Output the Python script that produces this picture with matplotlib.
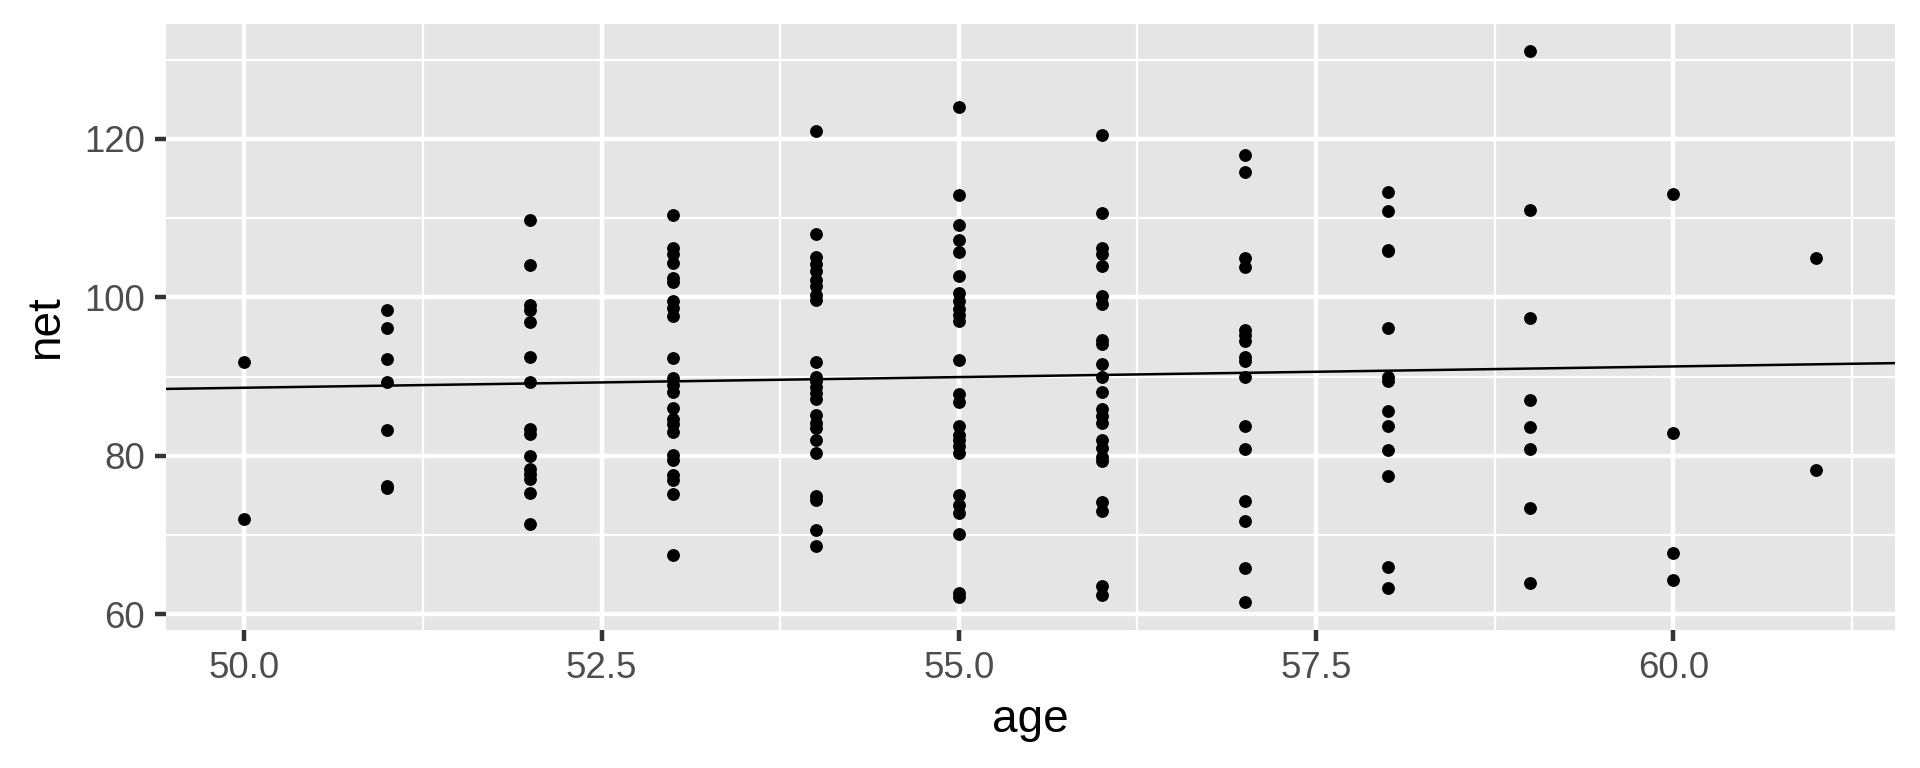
import numpy as np
import matplotlib
matplotlib.use("Agg")
import matplotlib.pyplot as plt

plt.rcParams['font.family'] = ['Liberation Sans', 'DejaVu Sans']

ages = [50, 51, 52, 53, 54, 55, 56, 57, 58, 59, 60, 61]
net_50 = [91.9, 72.0]
net_51 = [98.4, 96.2, 92.2, 89.3, 83.3, 76.2, 76.0]
net_52 = [109.8, 104.1, 99.1, 98.4, 96.9, 92.5, 89.3, 83.4, 82.7, 80.0, 78.4, 77.7, 77.1, 75.3, 71.4]
net_53 = [110.4, 106.2, 105.5, 104.4, 102.4, 102.0, 99.6, 98.7, 97.6, 92.3, 89.8, 88.9, 88.1,
          86.0, 84.6, 84.0, 83.0, 80.1, 79.5, 77.6, 76.9, 75.2, 67.5]
net_54 = [121.0, 108.0, 105.1, 104.2, 103.3, 102.2, 101.5, 100.3, 99.7, 91.8, 90.0, 89.5, 88.7,
          87.9, 87.2, 85.2, 84.1, 83.5, 82.0, 80.4, 74.9, 74.4, 70.6, 68.6]
net_55 = [124.0, 112.9, 109.1, 107.2, 105.7, 102.7, 100.5, 99.6, 98.6, 97.8, 97.0, 92.1, 87.8,
          86.8, 83.8, 82.6, 82.0, 81.2, 80.4, 75.1, 73.8, 72.8, 70.1, 62.7, 62.2]
net_56 = [120.5, 110.7, 106.3, 105.5, 104.0, 100.2, 99.2, 94.6, 94.1, 91.6, 89.9, 88.0, 85.9,
          85.0, 84.2, 82.0, 81.0, 79.9, 79.3, 74.2, 73.1, 63.6, 62.4]
net_57 = [118.0, 115.8, 105.0, 103.8, 95.9, 95.2, 94.5, 92.5, 92.0, 90.0, 83.8, 80.9, 74.3,
          71.8, 65.9, 61.5]
net_58 = [113.3, 110.9, 106.0, 105.8, 96.2, 89.9, 89.5, 85.7, 83.8, 80.7, 77.5, 66.0, 63.3]
net_59 = [131.1, 111.1, 97.4, 87.1, 83.7, 80.9, 73.4, 63.9]
net_60 = [113.0, 82.9, 67.7, 64.3]
net_61 = [105.0, 78.2]

# reference line (intercept, slope)
line_intercept = 75.15
line_slope = 0.269

groups = [net_50, net_51, net_52, net_53, net_54, net_55, net_56, net_57, net_58, net_59, net_60, net_61]
x = np.concatenate([[a] * len(g) for a, g in zip(ages, groups)]).astype(float)
y = np.concatenate(groups)

x_ticks = [50.0, 52.5, 55.0, 57.5, 60.0]
x_tick_labels = ["50.0", "52.5", "55.0", "57.5", "60.0"]
y_ticks = [60, 80, 100, 120]
y_tick_labels = ["60", "80", "100", "120"]

fig = plt.figure(figsize=(6.4, 2.56), dpi=300)
ax = fig.add_axes([0.0863, 0.1797, 0.9869 - 0.0863, 0.9694 - 0.1797])
ax.set_facecolor("#E5E5E5")

xr = x.max() - x.min()
yr = y.max() - y.min()
xlim = (x.min() - 0.05 * xr, x.max() + 0.05 * xr)
ylim = (y.min() - 0.05 * yr, y.max() + 0.05 * yr)
ax.set_xlim(xlim)
ax.set_ylim(ylim)

# grid
for v in np.arange(51.25, 62, 2.5):
    ax.axvline(v, color="white", lw=0.55, zorder=0)
for v in [70, 90, 110, 130]:
    ax.axhline(v, color="white", lw=0.55, zorder=0)
for v in x_ticks:
    ax.axvline(v, color="white", lw=1.07, zorder=0)
for v in y_ticks:
    ax.axhline(v, color="white", lw=1.07, zorder=0)

ax.scatter(x, y, s=9.5, color="black", linewidths=0, zorder=3)

ax.axline((0, line_intercept), slope=line_slope, color="black", lw=0.6, zorder=2)

for s in ax.spines.values():
    s.set_visible(False)

ax.set_xticks(x_ticks)
ax.set_xticklabels(x_tick_labels)
ax.set_yticks(y_ticks)
ax.set_yticklabels(y_tick_labels)
ax.tick_params(axis="both", length=2.75, width=1.07, color="#333333",
               labelsize=8.8, labelcolor="#4D4D4D", pad=2.2)

ax.set_xlabel("age", fontsize=11, color="black", labelpad=3)
ax.set_ylabel("net", fontsize=11, color="black", labelpad=4)

fig.savefig("out.png", dpi=300, facecolor="white")
